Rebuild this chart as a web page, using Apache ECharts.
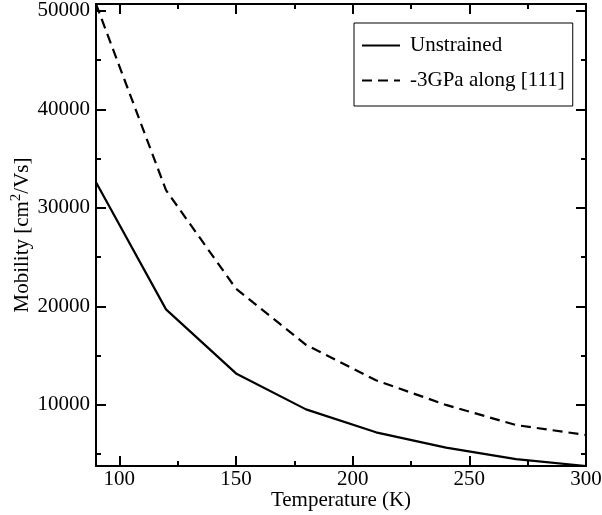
<!DOCTYPE html>
<html>
<head>
<meta charset="utf-8">
<script src="https://cdn.jsdelivr.net/npm/echarts@6/dist/echarts.min.js"></script>
<style>
  html, body { margin: 0; padding: 0; background: #fff; }
  #main { width: 602px; height: 515px; }
</style>
</head>
<body>
<div id="main"></div>
<script>
// data
var temps = [90, 120, 150, 180, 210, 240, 270, 300];
var unstrained = [32600, 19700, 13200, 9550, 7220, 5660, 4500, 3800];
var strained = [50700, 31800, 21800, 16100, 12500, 10000, 7960, 6950];
var seriesNames = ['Unstrained', '-3GPa along [111]'];

var myChart = echarts.init(document.getElementById('main'));

var font = 'Liberation Serif';
var fs = 21;

var xMin = Math.min.apply(null, temps), xMax = Math.max.apply(null, temps);
var allY = unstrained.concat(strained);
var yMin = Math.min.apply(null, allY), yMax = Math.max.apply(null, allY);

function pairs(xs, ys) {
    return xs.map(function (x, i) { return [x, ys[i]]; });
}

function xAx(pos, showLabel) {
    return {
        type: 'value',
        position: pos,
        min: xMin,
        max: xMax,
        splitNumber: 4,
        name: showLabel ? 'Temperature (K)' : '',
        nameLocation: 'middle',
        nameGap: 24,
        nameMoveOverlap: false,
        nameTextStyle: { fontFamily: font, fontSize: fs, color: '#000' },
        axisLine: { show: true, onZero: false, lineStyle: { color: '#000', width: 2 } },
        axisTick: { show: true, inside: true, length: 10, lineStyle: { color: '#000', width: 2 } },
        minorTick: { show: true, splitNumber: 2, length: 5, lineStyle: { color: '#000', width: 2 } },
        axisLabel: {
            show: showLabel, fontFamily: font, fontSize: fs, color: '#000', margin: 3,
            showMinLabel: false,
            formatter: function (v) { return String(v); }
        },
        splitLine: { show: false }
    };
}

function yAx(pos, showLabel) {
    return {
        type: 'value',
        position: pos,
        min: yMin,
        max: yMax,
        splitNumber: 5,
        name: showLabel ? '{a|Mobility [cm}{s|2}{a|/Vs]}' : '',
        nameLocation: 'middle',
        nameGap: 60,
        nameMoveOverlap: false,
        nameTextStyle: {
            fontFamily: font, fontSize: fs, color: '#000',
            rich: {
                a: { fontFamily: font, fontSize: fs, color: '#000' },
                s: { fontFamily: font, fontSize: 15, color: '#000', padding: [0, 0, 12, 0] }
            }
        },
        axisLine: { show: true, onZero: false, lineStyle: { color: '#000', width: 2 } },
        axisTick: { show: true, inside: true, length: 10, lineStyle: { color: '#000', width: 2 } },
        minorTick: { show: true, splitNumber: 2, length: 5, lineStyle: { color: '#000', width: 2 } },
        axisLabel: {
            show: showLabel, fontFamily: font, fontSize: fs, color: '#000', margin: 6,
            showMinLabel: false, showMaxLabel: false,
            formatter: function (v) { return String(v); }
        },
        splitLine: { show: false }
    };
}

option = {
    animation: false,
    backgroundColor: '#fff',
    grid: {
        left: 96,
        right: 16,
        top: 4,
        bottom: 49,
        containLabel: false,
        outerBoundsMode: 'none'
    },
    legend: {
        orient: 'vertical',
        left: 354,
        top: 23,
        padding: [12, 8, 15, 7],
        itemWidth: 38,
        itemHeight: 21,
        itemGap: 14,
        borderColor: '#000',
        borderWidth: 1,
        itemStyle: { opacity: 0 },
        textStyle: { fontFamily: font, fontSize: fs, color: '#000', padding: [0, 0, 0, 5] },
        data: seriesNames
    },
    xAxis: [xAx('bottom', true), xAx('top', false)],
    yAxis: [yAx('left', true), yAx('right', false)],
    series: [
        {
            name: seriesNames[0],
            type: 'line',
            symbol: 'none',
            color: '#000',
            lineStyle: { color: '#000', width: 2.2 },
            data: pairs(temps, unstrained)
        },
        {
            name: seriesNames[1],
            type: 'line',
            symbol: 'none',
            color: '#000',
            lineStyle: { color: '#000', width: 2.2, type: [10, 6] },
            data: pairs(temps, strained)
        }
    ]
};

myChart.setOption(option);
</script>
</body>
</html>
